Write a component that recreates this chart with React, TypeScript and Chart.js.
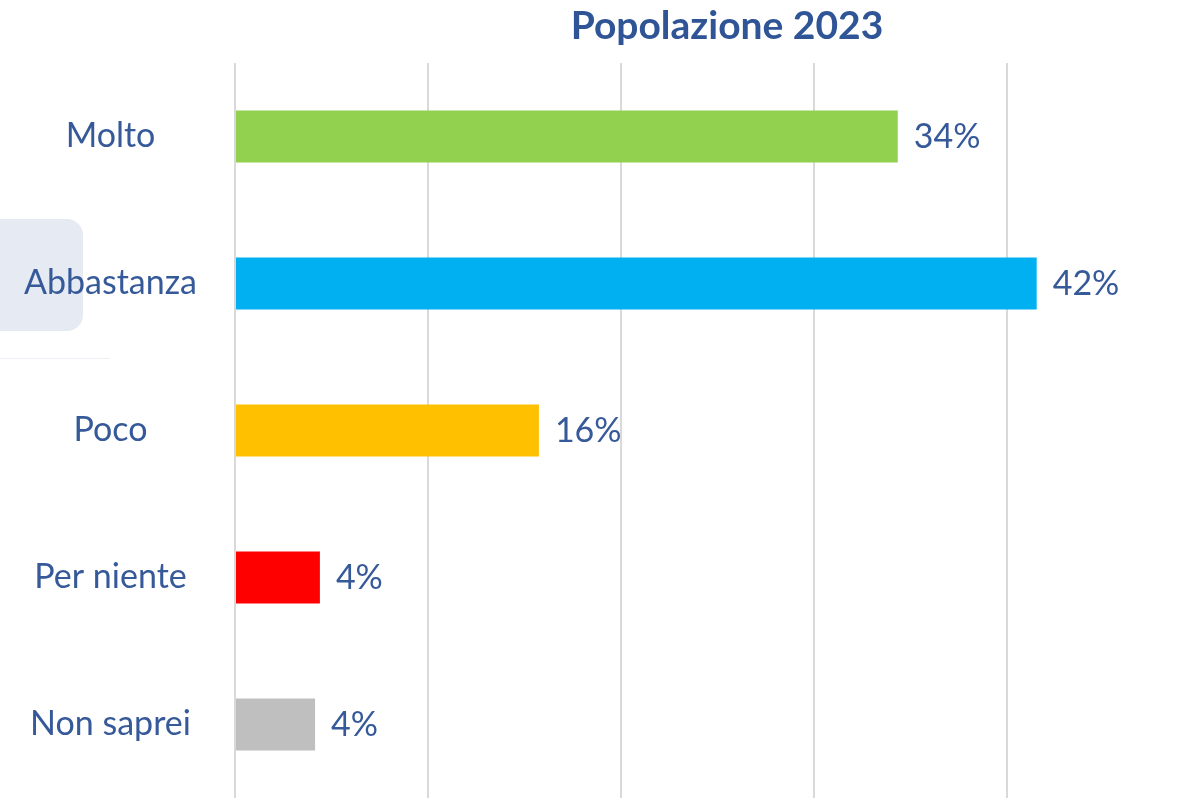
import React, { useEffect, useRef } from "react";
import { Chart, registerables } from "chart.js";

Chart.register(...registerables);

const TITLE = "Popolazione 2023";
const categories = ["Molto", "Abbastanza", "Poco", "Per niente", "Non saprei"];
const values = [34.35, 41.55, 15.75, 4.4, 4.15];
const valueLabels = ["34%", "42%", "16%", "4%", "4%"];
const barColors = ["#92D050", "#00B0F0", "#FFC000", "#FF0000", "#BFBFBF"];

const TEXT_COLOR = "#2F5597";
const LABEL_COLOR = "#36599A";
const FONT = "Lato, 'Open Sans', sans-serif";

const valueLabelPlugin = {
  id: "valueLabels",
  afterDatasetsDraw(chart: any) {
    const ctx = chart.ctx;
    const meta = chart.getDatasetMeta(0);
    ctx.save();
    ctx.font = `34px ${FONT}`;
    ctx.fillStyle = LABEL_COLOR;
    ctx.textAlign = "left";
    ctx.textBaseline = "middle";
    meta.data.forEach((bar: any, i: number) => {
      ctx.fillText(valueLabels[i], bar.x + 16, bar.y + 1);
    });
    ctx.restore();
  },
};

const titlePlugin = {
  id: "customTitle",
  afterDraw(chart: any) {
    const ctx = chart.ctx;
    ctx.save();
    ctx.font = `bold 39px ${FONT}`;
    ctx.fillStyle = TEXT_COLOR;
    ctx.textAlign = "center";
    ctx.textBaseline = "middle";
    ctx.fillText(TITLE, 727, 26);
    ctx.restore();
  },
};

export default function App() {
  const canvasRef = useRef<HTMLCanvasElement | null>(null);

  useEffect(() => {
    document.body.style.margin = "0";
    const canvas = canvasRef.current;
    if (!canvas) return;
    const chart = new Chart(canvas, {
      type: "bar",
      data: {
        labels: categories,
        datasets: [
          {
            data: values,
            backgroundColor: barColors,
            borderWidth: 0,
            barPercentage: 0.354,
            categoryPercentage: 1,
          },
        ],
      },
      options: {
        indexAxis: "y",
        animation: false,
        responsive: false,
        maintainAspectRatio: false,
        layout: { padding: { top: 63, right: 0, bottom: 0, left: 0 } },
        plugins: {
          legend: { display: false },
          title: { display: false },
          tooltip: { enabled: false },
        },
        scales: {
          x: {
            min: 0,
            max: 49.6,
            afterFit(scale: any) {
              scale.height = 0;
              scale.paddingLeft = 0;
              scale.paddingRight = 0;
            },
            ticks: { display: false, stepSize: 10, includeBounds: false },
            grid: { color: "#D9D9D9", lineWidth: 2, drawTicks: false },
            border: { display: false },
          },
          y: {
            afterFit(scale: any) {
              scale.width = 235;
              scale.paddingTop = 0;
              scale.paddingBottom = 0;
            },
            ticks: {
              color: LABEL_COLOR,
              font: { family: FONT, size: 34 },
              crossAlign: "center",
              padding: 38,
            },
            grid: { display: false, drawTicks: false },
            border: { display: false },
          },
        },
      },
      plugins: [valueLabelPlugin, titlePlugin],
    } as any);
    return () => chart.destroy();
  }, []);

  return (
    <div style={{ position: "relative", width: 1192, height: 798, background: "#fff", overflow: "hidden" }}>
      <div
        style={{
          position: "absolute",
          left: -20,
          top: 219,
          width: 103,
          height: 112,
          borderRadius: 16,
          background: "#E6EAF2",
        }}
      />
      <div
        style={{
          position: "absolute",
          left: 0,
          top: 358,
          width: 110,
          height: 1,
          background: "#EEF0F5",
        }}
      />
      <canvas ref={canvasRef} width={1192} height={798} style={{ position: "absolute", left: 0, top: 0 }} />
    </div>
  );
}
